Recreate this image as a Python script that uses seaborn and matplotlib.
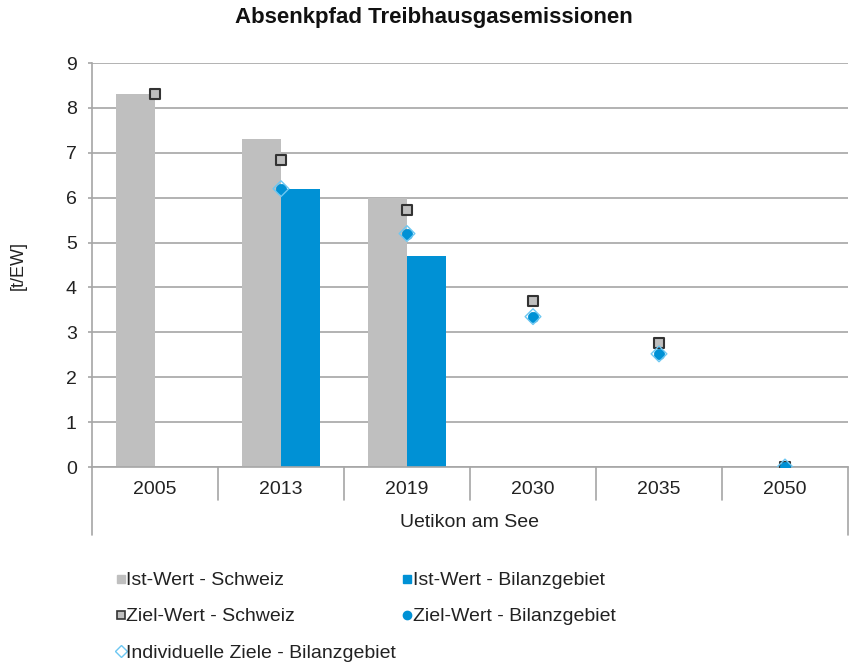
import matplotlib
matplotlib.use("Agg")
import matplotlib.pyplot as plt
import matplotlib.transforms as mtransforms
from matplotlib.lines import Line2D
import seaborn as sns
import pandas as pd
import numpy as np

# ---------------- data ----------------
years = ["2005", "2013", "2019", "2030", "2035", "2050"]
ist_schweiz = [8.3, 7.3, 6.0, None, None, None]
ist_bilanz = [None, 6.2, 4.7, None, None, None]
ziel_schweiz = [8.3, 6.85, 5.72, 3.7, 2.77, 0.0]
ziel_bilanz = [None, 6.2, 5.2, 3.35, 2.52, 0.0]
indiv_ziele = [None, 6.2, 5.2, 3.35, 2.52, 0.0]
group_label = "Uetikon am See"
title = "Absenkpfad Treibhausgasemissionen"
ylabel = "[t/EW]"
series_names = ["Ist-Wert - Schweiz", "Ist-Wert - Bilanzgebiet",
                "Ziel-Wert - Schweiz", "Ziel-Wert - Bilanzgebiet",
                "Individuelle Ziele - Bilanzgebiet"]

c_gray = "#BFBFBF"
c_blue = "#0091D5"
c_light = "#6CC7F2"
c_edge = "#333333"

sns.set_theme(style="white")
plt.rcParams["font.family"] = ["Liberation Sans", "DejaVu Sans"]

fig = plt.figure(figsize=(8.54, 6.67), dpi=100)
ax = fig.add_axes([92 / 854, 1 - 467 / 667, (848 - 92) / 854, (467 - 63) / 667])

# bars
rows = []
for y, a, b in zip(years, ist_schweiz, ist_bilanz):
    if a is not None:
        rows.append((y, series_names[0], a))
    if b is not None:
        rows.append((y, series_names[1], b))
df_bars = pd.DataFrame(rows, columns=["Jahr", "Serie", "Wert"])
sns.barplot(data=df_bars, x="Jahr", y="Wert", hue="Serie", order=years,
            hue_order=series_names[:2], palette=[c_gray, c_blue],
            width=0.62, saturation=1, errorbar=None, legend=False,
            linewidth=0, ax=ax)


def points(vals):
    xs = [y for y, v in zip(years, vals) if v is not None]
    vs = [v for v in vals if v is not None]
    return xs, vs


xs, vs = points(ziel_schweiz)
sns.stripplot(x=xs, y=vs, order=years, jitter=False, marker="s", size=7.8,
              color=c_gray, edgecolor=c_edge, linewidth=1.5, zorder=3, ax=ax)
xs, vs = points(ziel_bilanz)
sns.stripplot(x=xs, y=vs, order=years, jitter=False, marker="o", size=7.5,
              color=c_blue, edgecolor=c_blue, linewidth=0.5, zorder=4, ax=ax)
xs, vs = points(indiv_ziele)
sns.stripplot(x=xs, y=vs, order=years, jitter=False, marker="D", size=8,
              color="none", edgecolor=c_light, linewidth=1.0, zorder=5, ax=ax)

# axes styling
ax.set_xlim(-0.5, len(years) - 0.5)
ax.set_ylim(0, 9)
ax.set_yticks(range(0, 10))
ax.yaxis.grid(True, color="#A6A6A6", linewidth=1.2)
ax.set_axisbelow(True)
for s in ["top", "right"]:
    ax.spines[s].set_visible(False)
ax.spines["left"].set_color("#A6A6A6")
ax.spines["left"].set_linewidth(1.2)
ax.spines["bottom"].set_color("#A6A6A6")
ax.spines["bottom"].set_linewidth(1.2)
ax.tick_params(axis="y", length=3, width=1.2, color="#A6A6A6", pad=8,
               labelsize=14, labelcolor="#222222", left=True)
ax.tick_params(axis="x", length=0, pad=10, labelsize=14, labelcolor="#222222")
ax.set_xlabel("")
ax.set_ylabel(ylabel, fontsize=13, color="#222222", labelpad=28)

# category separators and group box
trans = mtransforms.blended_transform_factory(ax.transData, ax.transAxes)
for k in range(len(years) + 1):
    xk = k - 0.5
    ybot = -0.168 if k in (0, len(years)) else -0.082
    ax.add_line(Line2D([xk, xk], [0, ybot], transform=trans, color="#A6A6A6",
                       linewidth=1.2, clip_on=False, zorder=6))
ax.text((len(years) - 1) / 2, -0.137, group_label, transform=trans,
        ha="center", va="center", fontsize=14, color="#222222")

fig.text(434 / 854, 1 - 18 / 667, title, ha="center", va="center",
         fontsize=16, fontweight="bold", color="#111111")

# legend
h_ist_s = Line2D([], [], linestyle="none", marker="s", markersize=6,
                 markerfacecolor=c_gray, markeredgecolor=c_gray)
h_ist_b = Line2D([], [], linestyle="none", marker="s", markersize=6,
                 markerfacecolor=c_blue, markeredgecolor=c_blue)
h_ziel_s = Line2D([], [], linestyle="none", marker="s", markersize=6,
                  markerfacecolor=c_gray, markeredgecolor=c_edge, markeredgewidth=1.2)
h_ziel_b = Line2D([], [], linestyle="none", marker="o", markersize=6,
                  markerfacecolor=c_blue, markeredgecolor=c_blue)
h_ind = Line2D([], [], linestyle="none", marker="D", markersize=6,
               markerfacecolor="none", markeredgecolor=c_light, markeredgewidth=1.0)
handles = [h_ist_s, h_ziel_s, h_ind, h_ist_b, h_ziel_b]
labels = [series_names[0], series_names[2], series_names[4],
          series_names[1], series_names[3]]
fig.legend(handles, labels, ncol=2, loc="upper left",
           bbox_to_anchor=(106 / 854, 1 - 562 / 667), frameon=False,
           fontsize=14, handlelength=0.5, handletextpad=0.05,
           labelspacing=0.95, columnspacing=0.3, borderpad=0,
           labelcolor="#222222")

fig.savefig("out.png", dpi=100)
